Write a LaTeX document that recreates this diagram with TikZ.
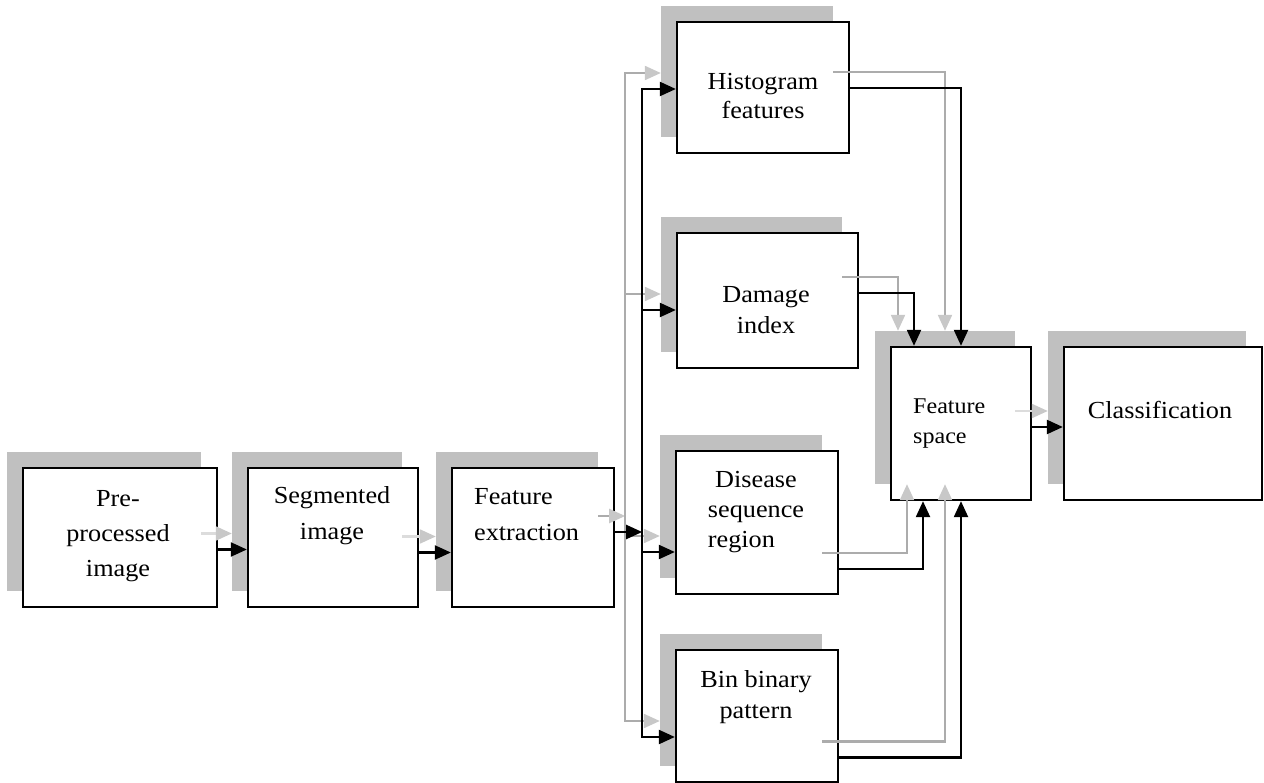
\documentclass[tikz,border=0pt]{standalone}
\usepackage{fontspec}
\setmainfont{Liberation Serif}[FakeStretch=1.07]
\usetikzlibrary{arrows.meta}

\definecolor{shade}{HTML}{C0C0C0}
\definecolor{gline}{HTML}{ACACAC}
\definecolor{glight}{HTML}{DCDCDC}
\definecolor{ghead}{HTML}{C8C8C8}

% a stage: grey drop shadow (name-s) under a white framed box (name-b)
% #1 name, #2 #3 centre, #4 width, #5 height (all in px units)
\newcommand\flowstage[5]{%
  \node[shadowbox, minimum width=#4pt, minimum height=#5pt] (#1-s) at (#2-16,#3-16) {};
  \node[stagebox, minimum width=#4pt, minimum height=#5pt] (#1-b) at (#2,#3) {};%
}

\begin{document}
\begin{tikzpicture}[x=1pt, y=-1pt,
  stagebox/.style={draw=black, line width=2.3pt, fill=white, inner sep=0pt},
  shadowbox/.style={fill=shade, inner sep=0pt},
  lbl/.style={inner sep=0pt, anchor=north, align=center},
  bconn/.style={draw=black, line width=2.2pt, -{Triangle[length=16pt,width=14pt]}},
  glong/.style={draw=gline, line width=2.2pt, -{Triangle[length=16pt,width=14pt,color=ghead]}},
  gshort/.style={draw=glight, line width=2.2pt, -{Triangle[length=16pt,width=14pt,color=ghead]}},
]
\useasboundingbox (0,0) rectangle (1264,783);

% stages
\flowstage{pre}{120}{537.5}{194}{139}
\flowstage{seg}{333}{537.5}{170}{139}
\flowstage{fex}{533}{537.5}{162}{139}
\flowstage{hist}{763}{87.5}{172}{131}
\flowstage{dmg}{767.5}{300.5}{181}{135}
\flowstage{dis}{757}{522.5}{162}{143}
\flowstage{bin}{757}{716}{162}{132}
\flowstage{fsp}{961}{423.5}{140}{153}
\flowstage{cls}{1163}{423.5}{198}{153}

% connectors: grey shadow copy first, black on top
\foreach \s/\lng/\shrt in {s/glong/gshort, b/bconn/bconn} {
  \coordinate (bus-\s) at ([shift={(27pt,5.5pt)}]fex-\s.east);
  \draw[\shrt] ([yshift=-12pt]pre-\s.east) -- ([yshift=-12pt]seg-\s.west);
  \draw[\shrt] ([yshift=-15pt]seg-\s.east) -- ([yshift=-15pt]fex-\s.west);
  \draw[\lng] ([yshift=5.5pt]fex-\s.east) -- (bus-\s);
  \draw[\lng] (bus-\s) |- ([yshift=-1.5pt]hist-\s.west);
  \draw[\lng] (bus-\s) |- ([yshift=-9.5pt]dmg-\s.west);
  \draw[\lng] (bus-\s) |- ([yshift=-29.5pt]dis-\s.west);
  \draw[\lng] (bus-\s) |- ([yshift=-21pt]bin-\s.west);
  \draw[\lng] ([yshift=-0.5pt]hist-\s.east) -| (fsp-\s.north);
  \draw[\lng] ([yshift=7.5pt]dmg-\s.east) -| ([xshift=-47pt]fsp-\s.north);
  \draw[\lng] ([yshift=-46.5pt]dis-\s.east) -| ([xshift=-38pt]fsp-\s.south);
  \draw[\lng] ([yshift=-41.5pt]bin-\s.east) -| (fsp-\s.south);
  \draw[\shrt] ([yshift=-3.5pt]fsp-\s.east) -- ([yshift=-3.5pt]cls-\s.west);
}

% labels
\node[lbl, font=\fontsize{24.5}{35}\selectfont] (pre-t) at (118,486)
  {\rule{0pt}{20pt}Pre-\\processed\\image};
\node[lbl, font=\fontsize{24.5}{36}\selectfont] (seg-t) at (332,483)
  {\rule{0pt}{20pt}Segmented\\image};
\node[lbl, anchor=north west, align=left, font=\fontsize{24.5}{36}\selectfont] (fex-t) at (474,484)
  {\rule{0pt}{20pt}Feature\\extraction};
\node[lbl, font=\fontsize{24.5}{29}\selectfont] (hist-t) at (763,69)
  {\rule{0pt}{20pt}Histogram\\features};
\node[lbl, font=\fontsize{24.5}{31}\selectfont] (dmg-t) at (766,282)
  {\rule{0pt}{20pt}Damage\\index};
\node[lbl, font=\fontsize{24.5}{30}\selectfont] (dis-t) at (756,467)
  {\rule{0pt}{20pt}Disease\\sequence\\\rlap{region}\phantom{sequence}};
\node[lbl, font=\fontsize{24.5}{31}\selectfont] (bin-t) at (756,667)
  {\rule{0pt}{20pt}Bin binary\\pattern};
\node[lbl, anchor=north west, align=left, font=\fontsize{22.5}{30}\selectfont] (fsp-t) at (913,393)
  {\rule{0pt}{20pt}Feature\\space};
\node[lbl, font=\fontsize{24.5}{30}\selectfont] (cls-t) at (1160,398)
  {\rule{0pt}{20pt}Classification};
\end{tikzpicture}
\end{document}
